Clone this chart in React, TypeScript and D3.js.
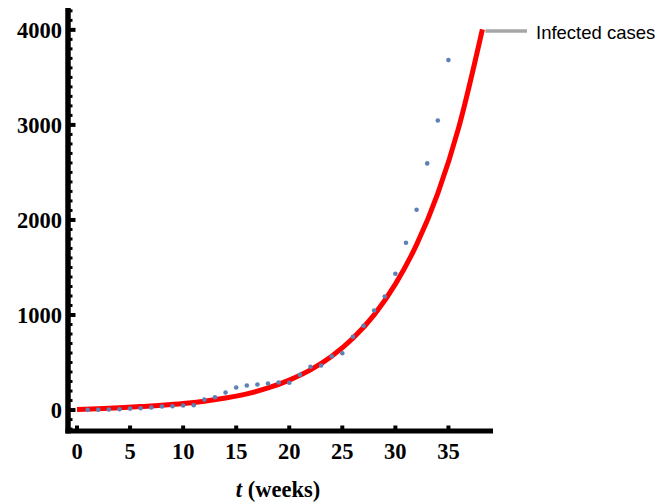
import React, { useRef, useEffect } from "react";
import * as d3 from "d3";

// weekly infected cases
const weeks = [1, 2, 3, 4, 5, 6, 7, 8, 9, 10, 11, 12, 13, 14, 15, 16, 17, 18, 19, 20,
  21, 22, 23, 24, 25, 26, 27, 28, 29, 30, 31, 32, 33, 34, 35];
const cases = [2, 3, 5, 8, 15, 19, 26, 37, 40, 47, 50, 110, 135, 184, 237, 258, 268, 279, 289, 287,
  370, 455, 468, 566, 598, 770, 886, 1047, 1195, 1434, 1760, 2107, 2595, 3047, 3682];

// fitted curve
const fitT = [0, 2, 4, 6, 8, 10, 12, 14, 16, 18, 20, 22, 24, 26, 28, 30, 32, 34, 36, 38.2];
const fitV = [5, 14, 24, 36, 50, 68, 93, 126, 170, 232, 315, 422, 566, 755, 1001, 1325, 1740, 2280, 2985, 4005];

const xTicks = [0, 5, 10, 15, 20, 25, 30, 35];
const yTicks = [0, 1000, 2000, 3000, 4000];
const seriesLabel = "Infected cases";

const W = 670;
const H = 502;

const Chart = (el: SVGSVGElement) => {
  const svg = d3.select(el);
  svg.selectAll("*").remove();

  const x = d3.scaleLinear().domain([-0.85, 39.2]).range([68, 493]);
  const y = d3.scaleLinear().domain([-210, 4230]).range([430, 8]);

  const axisY = 431;
  const axisX = 68;

  // minor y ticks
  const minor = d3.range(-200, 4201, 100).filter(v => v % 1000 !== 0);
  svg.append("g").selectAll("line").data(minor).enter().append("line")
    .attr("x1", axisX).attr("x2", axisX + 4.5)
    .attr("y1", d => y(d)).attr("y2", d => y(d))
    .attr("stroke", "black").attr("stroke-width", 3);

  svg.append("g").selectAll("line").data(yTicks).enter().append("line")
    .attr("x1", axisX).attr("x2", axisX + 7.5)
    .attr("y1", d => y(d)).attr("y2", d => y(d))
    .attr("stroke", "black").attr("stroke-width", 4);

  svg.append("g").selectAll("line").data(xTicks).enter().append("line")
    .attr("x1", d => x(d)).attr("x2", d => x(d))
    .attr("y1", axisY).attr("y2", axisY - 5.5)
    .attr("stroke", "black").attr("stroke-width", 4);

  // axis lines
  svg.append("line")
    .attr("x1", axisX).attr("x2", axisX).attr("y1", 8).attr("y2", axisY + 2.5)
    .attr("stroke", "black").attr("stroke-width", 5.5);
  svg.append("line")
    .attr("x1", axisX - 2.5).attr("x2", 493).attr("y1", axisY).attr("y2", axisY)
    .attr("stroke", "black").attr("stroke-width", 5);

  const font = "'Liberation Serif', 'Times New Roman', serif";

  svg.append("g").selectAll("text").data(yTicks).enter().append("text")
    .attr("x", 62).attr("y", d => y(d))
    .attr("dy", "0.34em")
    .attr("text-anchor", "end")
    .attr("font-family", font).attr("font-weight", "bold").attr("font-size", 22.5)
    .text(d => d);

  svg.append("g").selectAll("text").data(xTicks).enter().append("text")
    .attr("x", d => x(d)).attr("y", 459)
    .attr("text-anchor", "middle")
    .attr("font-family", font).attr("font-weight", "bold").attr("font-size", 22.5)
    .text(d => d);

  const lab = svg.append("text")
    .attr("x", 278).attr("y", 497)
    .attr("text-anchor", "middle")
    .attr("font-family", font).attr("font-weight", "bold").attr("font-size", 22.5);
  lab.append("tspan").attr("font-style", "italic").text("t");
  lab.append("tspan").text(" (weeks)");

  // fitted curve
  const line = d3.line<number>()
    .x((d, i) => x(fitT[i]))
    .y(d => y(d))
    .curve(d3.curveMonotoneX);
  svg.append("path")
    .attr("d", line(fitV))
    .attr("fill", "none")
    .attr("stroke", "#ff0000")
    .attr("stroke-width", 5);

  // data points
  svg.append("g").selectAll("circle").data(cases).enter().append("circle")
    .attr("cx", (d, i) => x(weeks[i]))
    .attr("cy", d => y(d))
    .attr("r", 2.3)
    .attr("fill", "#5e81b5");

  // label callout
  const endX = x(fitT[fitT.length - 1]);
  const endY = y(fitV[fitV.length - 1]);
  svg.append("line")
    .attr("x1", endX + 3).attr("x2", 527).attr("y1", endY + 1.5).attr("y2", endY + 1.5)
    .attr("stroke", "#a6a6a6").attr("stroke-width", 3.5);
  svg.append("text")
    .attr("x", 536).attr("y", 39)
    .attr("font-family", "'Liberation Sans', Arial, sans-serif")
    .attr("font-size", 18.5)
    .text(seriesLabel);
};

const App = () => {
  const ref = useRef<SVGSVGElement>(null);
  useEffect(() => {
    if (ref.current) Chart(ref.current);
  }, []);
  return (
    <svg ref={ref} width={W} height={H}
      style={{ position: "absolute", left: 0, top: 0, background: "white" }} />
  );
};

export default App;
